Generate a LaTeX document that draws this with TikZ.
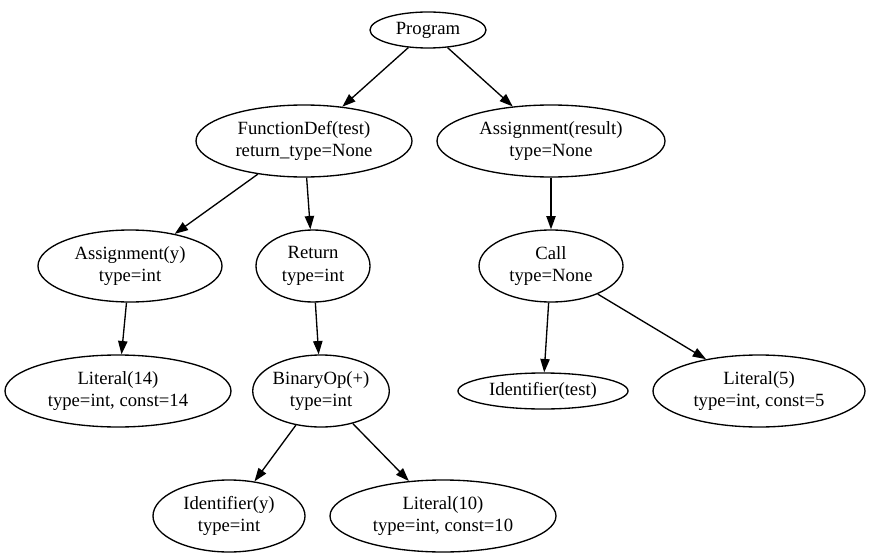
\documentclass[tikz,border=0pt]{standalone}
\usepackage{fontspec}
\setmainfont{Liberation Serif}
\usetikzlibrary{shapes.geometric,arrows.meta,positioning}

\begin{document}
\begin{tikzpicture}[
    x=0.75pt, y=-0.75pt,
    tnode/.style={ellipse, draw, line width=1pt, inner sep=0pt, align=center, font=\fontsize{14pt}{16.8pt}\selectfont, minimum height=54pt},
    arrow/.style={-{Triangle[length=10pt, width=7pt]}, line width=1pt}
]
    \useasboundingbox (0,0) rectangle (871,560);

    % Root
    \node[tnode, minimum width=87pt, minimum height=27pt] (prog) at (428,30) {Program};

    % Level 1
    \node[tnode, minimum width=162pt] (fdef) at (304,141) {FunctionDef(test)\\return\_type=None};
    \node[tnode, minimum width=171pt] (assres) at (551,141) {Assignment(result)\\type=None};

    % Level 2
    \node[tnode, minimum width=138pt] (assy) at (130,266) {Assignment(y)\\type=int};
    \node[tnode, minimum width=85.5pt] (ret) at (313,266) {Return\\type=int};
    \node[tnode, minimum width=108pt] (call) at (551,266) {Call\\type=None};

    % Level 3
    \node[tnode, minimum width=169.5pt] (lit14) at (118,391) {Literal(14)\\type=int, const=14};
    \node[tnode, minimum width=100pt] (binop) at (321,391) {BinaryOp(+)\\type=int};
    \node[tnode, minimum width=127.5pt, minimum height=27pt] (idtest) at (543,391) {Identifier(test)};
    \node[tnode, minimum width=159pt] (lit5) at (759,391) {Literal(5)\\type=int, const=5};

    % Level 4
    \node[tnode, minimum width=114pt] (idy) at (229,516) {Identifier(y)\\type=int};
    \node[tnode, minimum width=169.5pt] (lit10) at (443,516) {Literal(10)\\type=int, const=10};

    % Arrows
    \draw[arrow] (prog) -- (fdef);
    \draw[arrow] (prog) -- (assres);
    \draw[arrow] (fdef) -- (assy);
    \draw[arrow] (fdef) -- (ret);
    \draw[arrow] (assres) -- (call);
    \draw[arrow] (assy) -- (lit14);
    \draw[arrow] (ret) -- (binop);
    \draw[arrow] (call) -- (idtest);
    \draw[arrow] (call) -- (lit5);
    \draw[arrow] (binop) -- (idy);
    \draw[arrow] (binop) -- (lit10);
\end{tikzpicture}
\end{document}
